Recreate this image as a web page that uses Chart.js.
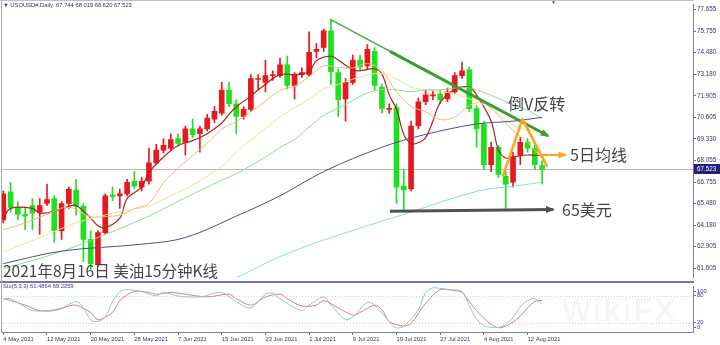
<!DOCTYPE html>
<html>
<head>
<meta charset="utf-8">
<script src="https://cdn.jsdelivr.net/npm/chart.js@4.4.1/dist/chart.umd.min.js"></script>
<style>
  body { margin: 0; background: #fff; }
  #wrap { position: relative; width: 720px; height: 345px; overflow: hidden; background: #fff; font-family: "Liberation Sans", Arial, sans-serif; }
  canvas { position: absolute; left: 0; }
  #main { top: 0; }
  #sto { top: 282px; }
  .note { position: absolute; font-family: "Noto Sans CJK SC", sans-serif; color: #454545; white-space: nowrap; line-height: 1; }
  .small { position: absolute; font-size: 5.8px; color: #2c2c70; white-space: nowrap; line-height: 1; }
  #sep { position: absolute; left: 0; top: 281px; width: 694px; height: 2px; background: #7474aa; }
  #lborder { position: absolute; left: 1px; top: 0; width: 1px; height: 333px; background: #a8a8a8; }
  #tborder { position: absolute; left: 0; top: 0; width: 694px; height: 1px; background: #c0c0c0; }
  #wm { position: absolute; left: 562px; top: 293px; font-size: 31px; font-weight: bold; color: rgba(0,0,0,0.035); letter-spacing: 2px; }
</style>
</head>
<body>
<div id="wrap">
  <canvas id="main" width="720" height="282"></canvas>
  <canvas id="sto" width="720" height="63"></canvas>
  <div id="sep"></div>
  <div id="lborder"></div>
  <div id="tborder"></div>
  <div class="small" style="left:3px;top:3px;">&#9660; USOUSD#,Daily&nbsp; 67.744 68.019 66.620 67.523</div>
  <div class="small" style="left:551px;top:0px;color:#555;font-size:5px;">&#9660;</div>
  <div class="small" style="left:3px;top:284px;color:#3a3a8a;">Sto(5,3,3) 61.4864 69.2259</div>
  <div class="note" style="left:3px;top:263px;font-size:15.5px;">2021年8月16日 美油15分钟K线</div>
  <div class="note" style="left:508px;top:95px;font-size:16px;">倒V反转</div>
  <div class="note" style="left:570px;top:146px;font-size:16px;">5日均线</div>
  <div class="note" style="left:562px;top:201px;font-size:16px;">65美元</div>
  <div id="wm">WikiFX</div>
</div>
<script>
// USOUSD# daily, 4 May 2021 .. 16 Aug 2021 (bar index 0..74)
const open  = [64.49,66.17,65.24,64.83,65.35,64.95,65.47,65.76,63.85,65.47,66.28,65.30,63.33,61.82,63.73,65.99,65.93,66.05,66.80,66.45,
               66.80,67.90,68.66,68.77,69.35,69.12,69.93,69.64,69.93,70.51,70.86,72.25,71.43,70.68,71.09,72.88,72.71,73.11,73.11,73.75,
               72.53,73.17,73.17,74.56,74.79,75.78,73.29,71.72,72.71,74.04,73.69,74.56,72.42,71.09,71.20,66.51,66.34,70.10,71.55,71.90,
               72.01,71.72,72.13,73.11,73.46,71.14,70.22,67.79,68.83,67.09,66.74,68.37,69.12,68.77,67.744];
const high  = [66.22,66.74,65.59,65.18,65.76,65.76,66.63,65.93,65.59,66.45,66.92,65.47,63.85,63.85,66.05,66.45,66.34,66.92,67.38,67.03,
               68.77,69.00,69.35,69.64,69.64,70.10,70.51,70.10,70.80,71.26,72.71,72.71,71.67,71.26,73.17,73.17,74.04,73.40,74.16,74.27,
               73.29,73.58,75.72,75.02,75.89,76.47,73.52,72.94,74.33,74.33,74.97,74.79,72.59,71.43,71.43,67.50,70.39,71.78,72.25,72.25,
               72.25,72.36,73.29,73.92,73.63,71.32,70.39,69.12,68.94,67.38,68.54,69.41,69.35,68.94,68.019];
const low   = [64.31,64.95,64.49,63.91,63.91,63.62,65.35,63.15,63.33,65.18,64.78,62.00,61.53,61.71,63.62,65.64,65.18,65.93,66.34,66.22,
               66.63,67.79,68.48,68.66,68.89,68.37,69.41,68.54,69.81,70.28,70.74,71.26,69.64,70.51,70.97,72.30,72.13,72.82,73.00,72.30,
               71.72,73.00,73.06,74.16,74.56,72.59,70.68,70.39,72.59,73.40,73.52,72.25,70.86,70.86,65.47,65.01,66.22,69.93,71.38,71.67,
               71.43,71.55,72.01,72.94,70.97,68.83,67.50,67.38,67.03,65.18,66.45,67.79,68.54,67.50,66.620];
const close = [66.05,65.24,64.83,64.72,64.89,65.35,65.70,63.85,65.47,66.34,65.30,63.33,61.88,63.73,65.93,65.88,66.05,66.74,66.51,66.80,
               67.90,68.66,68.94,69.29,69.06,69.93,69.58,69.93,70.57,70.97,72.25,71.43,70.68,71.09,72.94,72.94,73.11,73.17,73.75,72.53,
               73.17,73.29,74.50,74.68,75.78,73.35,71.67,72.71,74.04,73.63,74.68,72.53,71.14,71.14,66.45,66.28,70.10,71.55,71.96,71.96,
               71.67,72.13,73.11,73.40,71.14,69.93,67.79,68.83,67.21,66.63,68.25,69.12,68.77,67.79,67.523];

// moving averages: [bar index, price]
const ma5  = [[0,64.60],[1,65.18],[4,65.18],[5,64.89],[7,65.01],[9,65.30],[10,65.35],[12,64.60],[13,64.14],[14,64.02],[16,64.60],[17,65.76],
              [19,66.45],[20,67.32],[22,68.25],[24,68.94],[26,69.23],[28,69.64],[30,70.28],[31,70.80],[32,71.25],[34,71.90],[36,72.60],
              [38,73.17],[40,73.17],[42,73.35],[43,74.00],[45,74.27],[46,74.04],[48,73.45],[49,73.40],[51,73.52],[52,73.20],[53,71.96],
              [54,71.10],[55,69.60],[56,69.05],[57,69.10],[58,69.40],[59,70.40],[60,71.50],[62,72.30],[64,72.42],[65,71.96],[67,70.39],
              [68,68.66],[69,68.19],[70,68.25],[72,68.37],[74,68.31]];
const ma10 = [[0,63.91],[3,64.31],[6,64.83],[9,65.25],[12,64.68],[14,64.69],[16,64.78],[18,65.17],[20,65.48],[22,66.72],[24,67.58],
              [26,68.34],[28,69.07],[30,69.92],[32,70.37],[34,70.94],[36,71.59],[38,72.23],[40,72.48],[42,73.05],[44,73.69],[46,73.59],
              [48,73.57],[50,73.83],[52,73.42],[54,72.13],[56,71.27],[58,70.95],[60,70.48],[62,70.63],[64,71.33],[66,71.46],[68,70.72],
              [70,69.84],[72,69.11],[74,68.18]];
const ma20 = [[0,62.58],[5,63.44],[10,64.31],[15,64.89],[20,65.32],[22,65.70],[24,66.14],[26,66.56],[28,67.11],[30,67.69],[32,68.54],
              [34,69.26],[36,69.96],[38,70.65],[40,71.20],[42,71.71],[44,72.31],[46,72.59],[48,72.90],[50,73.15],[52,73.23],[54,72.91],
              [56,72.43],[58,72.26],[60,72.15],[62,72.02],[64,71.73],[66,71.36],[68,70.83],[70,70.16],[72,69.87],[74,69.76]];
const ma30 = [[0,61.59],[7,62.46],[14,63.62],[20,64.72],[25,65.82],[30,66.86],[32,67.25],[34,67.73],[36,68.24],[38,68.82],[40,69.29],
              [42,70.04],[44,70.74],[46,71.17],[48,71.63],[50,72.08],[52,72.28],[54,72.26],[56,72.15],[58,72.25],[60,72.26],[62,72.37],
              [64,72.38],[66,72.11],[68,71.75],[70,71.38],[72,71.05],[74,70.55]];
const ma60 = [[0,61.88],[8,62.63],[19,63.04],[25,63.44],[32,64.72],[38,65.93],[44,67.38],[52,68.83],[58,69.60],[65,70.22],[70,70.39],[74,70.62]];
const ma120 = [[30,60.75],[32,61.04],[38,62.30],[45,63.44],[55,64.82],[65,66.20],[70,66.50],[74,66.74]];

// stochastic (5,3,3): [bar index, value]
const stoK = [[0,73],[1,73],[3,55],[4,47],[6,47],[8,53],[10,67],[11,53],[12,27],[13,23],[14,33],[15,67],[16,89],[17,93],[19,89],[21,79],
              [22,87],[24,79],[27,77],[29,85],[30,87],[31,78],[32,66],[34,53],[36,83],[37,85],[38,73],[41,47],[42,59],[44,77],[45,59],
              [47,27],[48,33],[50,65],[51,59],[53,23],[54,9],[55,13],[57,49],[58,87],[59,97],[61,93],[63,89],[64,57],[65,28],[66,14],
              [67,10],[68,10],[69,17],[70,32],[71,55],[72,69],[73,73],[74,61.49]];
const stoD = [[0,73],[1,69],[3,59],[5,47],[7,47],[9,57],[10,59],[12,43],[13,27],[15,43],[16,69],[18,89],[20,87],[21,83],[23,87],[25,83],
              [28,77],[31,83],[32,73],[34,59],[36,77],[38,83],[39,73],[41,57],[43,59],[44,69],[46,53],[48,37],[49,43],[51,59],[52,49],
              [53,23],[55,13],[56,19],[58,63],[60,93],[62,91],[63,87],[64,67],[65,47],[66,30],[67,17],[68,9],[69,13],[70,22],[71,35],
              [72,53],[73,67],[74,69.23]];

// axis labels
const yTicks = [77.655, 75.755, 74.480, 73.180, 71.905, 70.605, 69.330, 68.055, 66.755, 65.480, 64.180, 62.905, 61.605];
const stoTicks = [100, 80, 20, 0];
const xTickIdx = [0, 6, 12, 18, 24, 30, 36, 42, 48, 54, 60, 66, 72];
const xTickLabels = ['4 May 2021','12 May 2021','20 May 2021','28 May 2021','7 Jun 2021','15 Jun 2021','23 Jun 2021',
                     '1 Jul 2021','9 Jul 2021','19 Jul 2021','27 Jul 2021','4 Aug 2021','12 Aug 2021'];

// hand-drawn annotations: [bar index, price]
const trendThin  = [[44.9, 76.47], [74.8, 69.52]];
const trendThick = [[53.1, 74.56], [74.8, 69.52]];
const vLines     = [[68.6, 67.09], [71.3, 70.51], [74.7, 67.67]];
const arrowMA5   = [[74.0, 68.37], [77.2, 68.37]];
const arrow65    = [[53.1, 65.01], [75.5, 65.12]];

const X_MIN = -0.18, X_MAX = 94.72;
const Y_MIN = 61.07, Y_MAX = 77.34;
const UP = '#e8191e', DOWN = '#1ee01e';
const FONT = '"Liberation Sans", Arial, sans-serif';
const LABEL = '#33337a';

const pts = arr => arr.map(([x, y]) => ({ x, y }));
const candleColor = c => close[c.dataIndex] >= open[c.dataIndex] ? UP : DOWN;

function maLine(data, color, width) {
  return { type: 'line', data: pts(data), borderColor: color, borderWidth: width || 1,
           pointRadius: 0, fill: false, tension: 0.35, order: 0 };
}

function drawPath(chart, list, color, width, arrow) {
  const { ctx, scales: { x, y } } = chart;
  const p = list.map(([a, b]) => [x.getPixelForValue(a), y.getPixelForValue(b)]);
  ctx.strokeStyle = color;
  ctx.fillStyle = color;
  ctx.lineWidth = width;
  ctx.lineJoin = 'round';
  ctx.beginPath();
  p.forEach(([px, py], i) => i ? ctx.lineTo(px, py) : ctx.moveTo(px, py));
  ctx.stroke();
  if (arrow) {
    const [x1, y1] = p[p.length - 2], [x2, y2] = p[p.length - 1];
    const ang = Math.atan2(y2 - y1, x2 - x1), len = 7, half = 3.5;
    ctx.beginPath();
    ctx.moveTo(x2 + Math.cos(ang) * 2, y2 + Math.sin(ang) * 2);
    ctx.lineTo(x2 - Math.cos(ang) * len - Math.sin(ang) * half, y2 - Math.sin(ang) * len + Math.cos(ang) * half);
    ctx.lineTo(x2 - Math.cos(ang) * len + Math.sin(ang) * half, y2 - Math.sin(ang) * len - Math.cos(ang) * half);
    ctx.closePath();
    ctx.fill();
  }
}

const bid = close[close.length - 1];

const mainOverlay = {
  id: 'mainOverlay',
  beforeDatasetsDraw(chart) {
    const { ctx, chartArea: a, scales: { y } } = chart;
    const yb = Math.round(y.getPixelForValue(bid)) + 0.5;
    ctx.save();
    ctx.strokeStyle = '#b8b8b8';
    ctx.lineWidth = 1;
    ctx.beginPath(); ctx.moveTo(a.left, yb); ctx.lineTo(a.right, yb); ctx.stroke();
    ctx.restore();
  },
  afterDatasetsDraw(chart) {
    const ctx = chart.ctx;
    ctx.save();
    drawPath(chart, trendThin, '#45a83c', 1.4, false);
    drawPath(chart, trendThick, '#3a9e30', 3, true);
    drawPath(chart, vLines, '#f6a623', 2.6, false);
    drawPath(chart, arrowMA5, '#f6a623', 2.2, true);
    drawPath(chart, arrow65, '#505050', 3, true);
    ctx.restore();
  },
  afterDraw(chart) {
    const { ctx, chartArea: a, scales: { y } } = chart;
    const yb = Math.round(y.getPixelForValue(bid));
    ctx.save();
    ctx.fillStyle = '#20207e';
    ctx.fillRect(a.right + 1, yb - 5, 26, 10);
    ctx.fillStyle = '#ffffff';
    ctx.font = '6.3px ' + FONT;
    ctx.textBaseline = 'middle';
    ctx.fillText(bid.toFixed(3), a.right + 4, yb + 0.5);
    ctx.restore();
  }
};

new Chart(document.getElementById('main'), {
  type: 'bar',
  data: {
    datasets: [
      { data: open.map((o, i) => ({ x: i, y: [low[i], high[i]] })), backgroundColor: candleColor,
        barThickness: 1, grouped: false, order: 3 },
      { data: open.map((o, i) => ({ x: i, y: [o, close[i]] })), backgroundColor: candleColor,
        barThickness: 5, minBarLength: 1, grouped: false, order: 2 },
      maLine(ma120, '#86dede'),
      maLine(ma60, '#4e4e90'),
      maLine(ma30, '#8edc8e'),
      maLine(ma20, '#eee28e'),
      maLine(ma10, '#f5b67c'),
      maLine(ma5, '#b0201c', 1.2)
    ]
  },
  options: {
    responsive: false, animation: false, devicePixelRatio: 1, events: [],
    layout: { padding: { left: 2, right: 0, top: 0, bottom: 1 } },
    plugins: { legend: { display: false }, tooltip: { enabled: false } },
    scales: {
      x: { type: 'linear', min: X_MIN, max: X_MAX, display: false, offset: false, grid: { offset: false } },
      y: {
        position: 'right', min: Y_MIN, max: Y_MAX,
        afterFit(s) { s.width = 27; },
        afterBuildTicks(s) {
          const pad = (Y_MAX - Y_MIN) * 4.7 / 281;
          s.ticks = yTicks.map(v => ({ value: Math.max(Math.min(v, Y_MAX - pad), Y_MIN + pad) }));
        },
        ticks: { callback: (v, i) => yTicks[i].toFixed(3), font: { size: 6.3, family: FONT }, color: LABEL,
                 padding: 1, autoSkip: false },
        grid: { drawOnChartArea: false, tickLength: 3, color: '#6a6a9c' },
        border: { color: '#7a7aa8', width: 1 }
      }
    }
  },
  plugins: [mainOverlay]
});

const stoOverlay = {
  id: 'stoOverlay',
  beforeDatasetsDraw(chart) {
    const { ctx, chartArea: a, scales: { y } } = chart;
    ctx.save();
    ctx.strokeStyle = '#cfcfcf';
    ctx.lineWidth = 1;
    ctx.setLineDash([1, 2]);
    [80, 20].forEach(v => {
      const yy = Math.round(y.getPixelForValue(v)) + 0.5;
      ctx.beginPath(); ctx.moveTo(a.left, yy); ctx.lineTo(a.right, yy); ctx.stroke();
    });
    ctx.restore();
  }
};

new Chart(document.getElementById('sto'), {
  type: 'line',
  data: {
    datasets: [
      { data: pts(stoK), borderColor: '#84cfc6', borderWidth: 1, pointRadius: 0, tension: 0.3, fill: false },
      { data: pts(stoD), borderColor: '#de7c76', borderWidth: 1, pointRadius: 0, tension: 0.3, fill: false }
    ]
  },
  options: {
    responsive: false, animation: false, devicePixelRatio: 1, events: [],
    layout: { padding: { left: 2, right: 0, top: 0, bottom: 0 } },
    plugins: { legend: { display: false }, tooltip: { enabled: false } },
    scales: {
      x: {
        type: 'linear', min: X_MIN, max: X_MAX, offset: false,
        afterFit(s) { s.height = 13; },
        afterBuildTicks(s) { s.ticks = xTickIdx.map(v => ({ value: v })); },
        ticks: { callback: (v, i) => xTickLabels[i], font: { size: 5.8, family: FONT }, color: LABEL,
                 align: 'start', maxRotation: 0, minRotation: 0, autoSkip: false, padding: 1 },
        grid: { drawOnChartArea: false, tickLength: 3, color: '#6a6a9c' },
        border: { color: '#7a7aa8', width: 1 }
      },
      y: {
        position: 'right', min: 0, max: 100,
        afterFit(s) { s.width = 27; },
        afterBuildTicks(s) { s.ticks = stoTicks.map(v => ({ value: Math.max(Math.min(v, 90), 10) })); },
        ticks: { callback: (v, i) => String(stoTicks[i]), font: { size: 5.8, family: FONT }, color: LABEL,
                 padding: 1, autoSkip: false },
        grid: { drawOnChartArea: false, tickLength: 3, color: '#6a6a9c' },
        border: { color: '#7a7aa8', width: 1 }
      }
    }
  },
  plugins: [stoOverlay]
});
</script>
</body>
</html>
